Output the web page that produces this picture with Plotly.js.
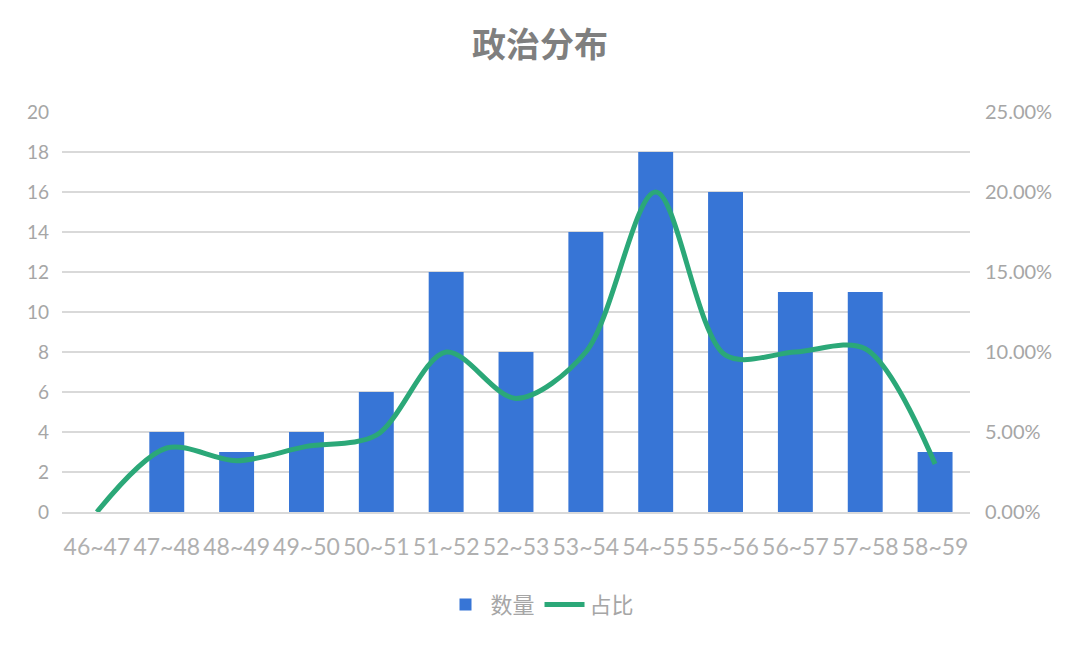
<!DOCTYPE html>
<html>
<head>
<meta charset="utf-8">
<script src="https://cdn.plot.ly/plotly-3.0.1.min.js"></script>
<style>
  html, body { margin: 0; padding: 0; background: #fff; }
  #chart { width: 1080px; height: 646px; }
</style>
</head>
<body>
<div id="chart"></div>
<script>
// 年龄段
const categories = ["46~47", "47~48", "48~49", "49~50", "50~51", "51~52", "52~53",
  "53~54", "54~55", "55~56", "56~57", "57~58", "58~59"];
// 数量
const counts = [0, 4, 3, 4, 6, 12, 8, 14, 18, 16, 11, 11, 3];
// 占比
const shares = [0, 0.040, 0.032, 0.041, 0.048, 0.100, 0.071, 0.100, 0.200, 0.098, 0.100, 0.102, 0.030];

const grey = "#a6a6a6";
const font = "Lato, 'Noto Sans CJK SC', sans-serif";

const barTrace = {
  x: categories,
  y: counts,
  type: "bar",
  name: "数量",
  marker: { color: "#3775d6" },
  hoverinfo: "x+y"
};

const lineTrace = {
  x: categories,
  y: shares,
  type: "scatter",
  mode: "lines",
  name: "占比",
  yaxis: "y2",
  line: { color: "#2ba878", width: 5, shape: "spline", smoothing: 0.9 }
};

const layout = {
  width: 1080,
  height: 646,
  margin: { l: 62, r: 110, t: 112, b: 134 },
  paper_bgcolor: "#fff",
  plot_bgcolor: "#fff",
  font: { family: font, color: grey },
  title: {
    text: "<b>政治分布</b>",
    font: { family: "'Noto Sans CJK SC', sans-serif", size: 34, color: "#7f7f7f" },
    x: 0.5,
    xanchor: "center",
    y: 0.93,
    yanchor: "middle"
  },
  bargap: 0.5,
  xaxis: {
    type: "category",
    showgrid: false,
    showline: true,
    linecolor: "#d9d9d9",
    linewidth: 1.5,
    ticks: "",
    tickangle: 0,
    tickfont: { size: 23, color: "#b0b0b0" },
    ticklabelstandoff: 14
  },
  yaxis: {
    range: [0, 20],
    dtick: 2,
    showgrid: true,
    gridcolor: "#d9d9d9",
    gridwidth: 1.5,
    zeroline: false,
    showline: false,
    ticks: "",
    tickfont: { size: 19, color: grey },
    ticklabelstandoff: 12
  },
  yaxis2: {
    overlaying: "y",
    side: "right",
    range: [0, 0.25],
    dtick: 0.05,
    tickformat: ".2%",
    showgrid: false,
    zeroline: false,
    showline: false,
    ticks: "",
    tickfont: { size: 20, color: grey },
    ticklabelstandoff: 14
  },
  showlegend: true,
  legend: {
    orientation: "h",
    x: 0.5,
    xref: "container",
    xanchor: "center",
    y: 0.064,
    yref: "container",
    yanchor: "middle",
    font: { size: 22, color: grey, family: "'Noto Sans CJK SC', sans-serif" },
    itemwidth: 40,
    traceorder: "normal"
  }
};

Plotly.newPlot("chart", [barTrace, lineTrace], layout, { displayModeBar: false, staticPlot: true });
</script>
</body>
</html>
